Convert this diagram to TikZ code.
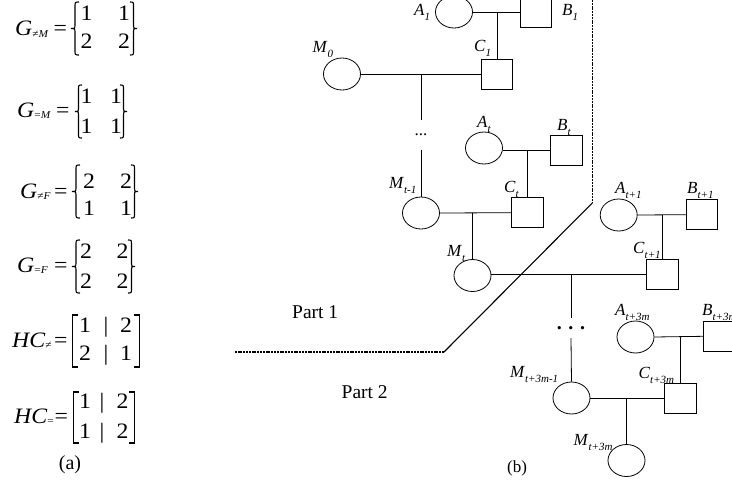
\documentclass[tikz,border=0pt]{standalone}
\usepackage{fontspec}
\setmainfont{Liberation Serif}
\newfontfamily\eqf{Liberation Serif}[FakeStretch=1.08]
\usetikzlibrary{shapes.geometric,calc}
\newcommand\lb[2]{\textit{#1}\raisebox{-5pt}{\fontsize{11}{11}\selectfont\textit{#2}}}
\newcommand\gs[2]{\textit{#1}\raisebox{-1.5pt}{\fontsize{10.5}{10.5}\selectfont #2}}
\newcommand\brc[4]{%
  \pgfmathsetmacro\bxm{(#1+#2)/2}%
  \pgfmathsetmacro\bym{(#3+#4)/2}%
  \draw[brcs] (#2,#3) .. controls (\bxm,#3) .. (\bxm,#3+5) -- (\bxm,\bym-5) .. controls (\bxm,\bym) .. (#1,\bym) .. controls (\bxm,\bym) .. (\bxm,\bym+5) -- (\bxm,#4-5) .. controls (\bxm,#4) .. (#2,#4);}
\newcommand\brk[4]{\draw[brcs] (#2,#3) -- (#1,#3) -- (#1,#4) -- (#2,#4);}
\begin{document}
\begin{tikzpicture}[x=1pt,y=-1pt,
  fem/.style={draw, ellipse, minimum width=37pt, minimum height=32pt, inner sep=0pt, line width=0.8pt},
  mal/.style={draw, rectangle, minimum width=31.6pt, minimum height=30pt, inner sep=0pt, line width=0.8pt},
  lnk/.style={line width=0.8pt},
  lab/.style={anchor=base west, inner sep=0pt, font=\fontsize{17}{17}\selectfont},
  eqn/.style={anchor=base west, inner sep=0pt, font=\eqf\fontsize{22}{22}\selectfont},
  ent/.style={anchor=base, inner sep=0pt, font=\eqf\fontsize{22}{22}\selectfont},
  brcs/.style={line width=1.1pt},
  part/.style={anchor=base west, inner sep=0pt, font=\fontsize{19.5}{20}\selectfont},
  bnd/.style={line width=1.4pt, dash pattern=on 2pt off 0.8pt},
  bndd/.style={line width=1.1pt},
  dots/.style={inner sep=0pt, font=\fontsize{17}{17}\selectfont},
]
\useasboundingbox (0,0) rectangle (732,483);

% ---------- panel (a) ----------
\node[eqn] (g1) at (15,35.5) {\gs{G}{≠\textit{M}}};
\node[eqn] (q1) at (53.5,35.5) {=};
\brc{71}{79}{2}{55}
\node[ent] (e11) at (86.5,20) {1};
\node[ent] (e12) at (124,20) {1};
\node[ent] (e13) at (86.5,48) {2};
\node[ent] (e14) at (124,48) {2};
\brc{137}{130}{2}{55}

\node[eqn] (g2) at (17,117) {\gs{G}{=\textit{M}}};
\node[eqn] (q2) at (56,117) {=};
\brc{75}{82}{85}{138}
\node[ent] (e21) at (86.5,103) {1};
\node[ent] (e22) at (116,103) {1};
\node[ent] (e23) at (86.5,133) {1};
\node[ent] (e24) at (116,133) {1};
\brc{127}{120}{85}{138}

\node[eqn] (g3) at (20,198) {\gs{G}{≠\textit{F}}};
\node[eqn] (q3) at (54,198) {=};
\brc{72}{80}{165}{218}
\node[ent] (e31) at (89,188) {2};
\node[ent] (e32) at (126,188) {2};
\node[ent] (e33) at (89,215.5) {1};
\node[ent] (e34) at (126,215.5) {1};
\brc{138}{131}{165}{218}

\node[eqn] (g4) at (17,272) {\gs{G}{=\textit{F}}};
\node[eqn] (q4) at (54,272) {=};
\brc{72}{80}{240}{293}
\node[ent] (e41) at (86,258) {2};
\node[ent] (e42) at (122.5,258) {2};
\node[ent] (e43) at (86,288) {2};
\node[ent] (e44) at (122.5,288) {2};
\brc{135}{128}{240}{293}

\node[eqn] (g5) at (12,347) {\gs{HC}{≠}};
\node[eqn] (q5) at (54,347) {=};
\brk{72.5}{78}{315}{367}
\node[ent] (e51) at (85,332) {1};
\node[ent] (e52) at (106,332) {|};
\node[ent] (e53) at (126,332) {2};
\node[ent] (e54) at (85,360.5) {2};
\node[ent] (e55) at (106,360.5) {|};
\node[ent] (e56) at (126,360.5) {1};
\brk{139.5}{134}{315}{367}

\node[eqn] (g6) at (14,423) {\gs{HC}{=}};
\node[eqn] (q6) at (54.5,423) {=};
\brk{73.5}{79}{392}{443}
\node[ent] (e61) at (85,408) {1};
\node[ent] (e62) at (102,408) {|};
\node[ent] (e63) at (122.5,408) {2};
\node[ent] (e64) at (85,438) {1};
\node[ent] (e65) at (102,438) {|};
\node[ent] (e66) at (122.5,438) {2};
\brk{134.5}{129}{392}{443}

\node[anchor=base, inner sep=0pt, font=\fontsize{20}{20}\selectfont] (capa) at (70,469.5) {(a)};

% ---------- panel (b) ----------
\node[fem] (A1) at (454,12) {};
\node[mal] (B1) at (536,12) {};
\node[mal] (C1) at (497,74) {};
\node[fem] (M0) at (342,74) {};
\node[fem] (At) at (484,148) {};
\node[mal] (Bt) at (566.5,150.5) {};
\node[mal] (Ct) at (527.5,212.7) {};
\node[fem] (Mtm) at (421,213) {};
\node[fem] (Mt) at (472.5,275.5) {};
\node[fem] (At1) at (618.7,215) {};
\node[mal] (Bt1) at (702,214.7) {};
\node[mal] (Ct1) at (662.5,274.5) {};
\node[fem] (At3) at (635.5,337) {};
\node[mal] (Bt3) at (719,336.3) {};
\node[mal] (Ct3) at (680.5,398) {};
\node[fem] (Mt3m) at (571.5,398) {};
\node[fem] (Mt3) at (626.5,460.5) {};

\node[dots, minimum height=29pt] (d1) at (421,135) {...};
\node[inner sep=0pt, minimum height=20pt, font=\bfseries\fontsize{20}{20}\selectfont] (d2) at (571,328) {. . .};

\draw[lnk] (A1.east) -- (B1.west);
\draw[lnk] (C1.north) -- (C1.north |- B1.west);
\draw[lnk] (M0.east) -- (C1.west);
\draw[lnk] (Mtm.north |- M0.east) -- (d1.north);
\draw[lnk] (d1.south) -- (Mtm.north);
\draw[lnk] (Bt.west) -- (Bt.west -| At.east);
\draw[lnk] (Ct.north) -- (Ct.north |- Bt.west);
\draw[lnk] (Mtm.east) -- (Ct.west);
\draw[lnk] (Mt.north |- Ct.west) -- (Mt.north);
\draw[lnk] (Mt.east |- Ct1.west) -- (Ct1.west);
\draw[lnk] (At1.east) -- (Bt1.west);
\draw[lnk] (Ct1.north) -- (Ct1.north |- Bt1.west);
\draw[lnk] (d2.north |- Ct1.west) -- (d2.north);
\draw[lnk] (d2.south) -- (Mt3m.north);
\draw[lnk] (At3.east) -- (Bt3.west);
\draw[lnk] (Ct3.north) -- (Ct3.north |- Bt3.west);
\draw[lnk] (Mt3m.east) -- (Ct3.west);
\draw[lnk] (Mt3.north |- Ct3.west) -- (Mt3.north);

% labels
\node[lab] (lA1) at (414,15) {\lb{A}{1}};
\node[lab] (lB1) at (562,15) {\lb{B}{1}};
\node[lab] (lC1) at (474,51) {\lb{C}{1}};
\node[lab] (lM0) at (312.5,52) {\lb{M}{0}};
\node[lab] (lAt) at (477,127) {\lb{A}{t}};
\node[lab] (lBt) at (557,130) {\lb{B}{t}};
\node[lab] (lCt) at (504,192) {\lb{C}{t}};
\node[lab] (lMtm) at (389,188) {\lb{M}{t-1}};
\node[lab] (lMt) at (447,256) {\lb{M}{t}};
\node[lab] (lAt1) at (615,193) {\lb{A}{t+1}};
\node[lab] (lBt1) at (687,193) {\lb{B}{t+1}};
\node[lab] (lCt1) at (633,253) {\lb{C}{t+1}};
\node[lab] (lAt3) at (615,315) {\lb{A}{t+3m}};
\node[lab] (lBt3) at (702,315) {\lb{B}{t+3m}};
\node[lab] (lCt3) at (638.5,378) {\lb{C}{t+3m}};
\node[lab] (lMt3m) at (510,377) {\lb{M}{t+3m-1}};
\node[lab] (lMt3) at (573.5,445) {\lb{M}{t+3m}};

% boundary
\coordinate (p0) at (592.3,0);
\coordinate (p1) at (592.3,203);
\coordinate (p2) at (444,352);
\coordinate (p3) at (234.7,352);
\draw[bnd] (p0) -- (p1);
\draw[bndd] (p1) -- (p2);
\draw[bnd] (p2) -- (p3);

\node[part] (part1) at (292,318) {Part 1};
\node[part] (part2) at (341.5,398) {Part 2};
\node[anchor=base, inner sep=0pt, font=\fontsize{17}{17}\selectfont] (capb) at (517,472) {(b)};
\end{tikzpicture}
\end{document}
